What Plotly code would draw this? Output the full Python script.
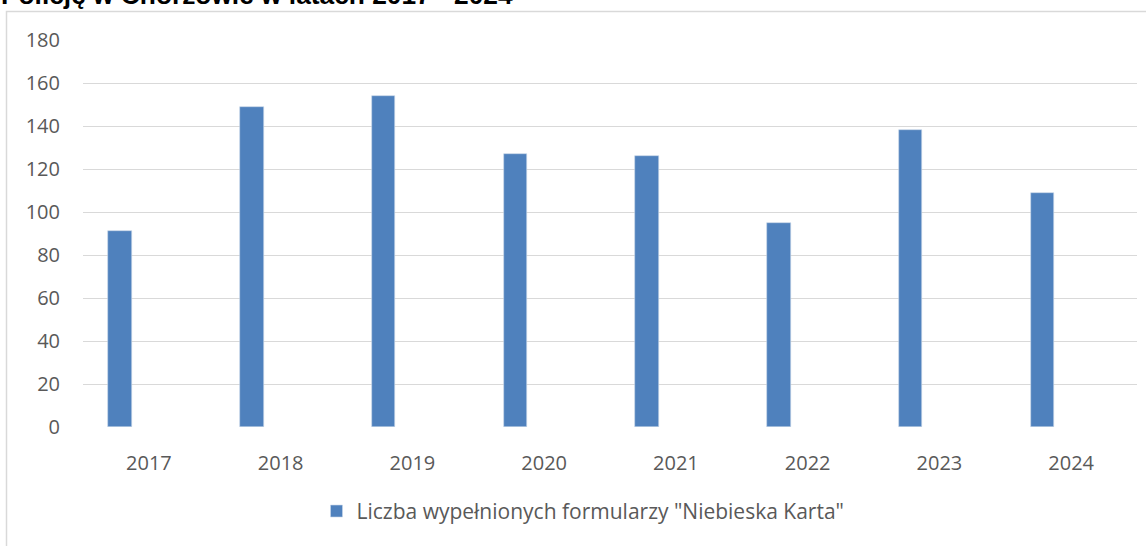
import plotly.graph_objects as go

years = ["2017", "2018", "2019", "2020", "2021", "2022", "2023", "2024"]
counts = [91, 149, 154, 127, 126, 95, 138, 109]
series_name = 'Liczba wypełnionych formularzy "Niebieska Karta"'
title_text = "Policję w Chorzowie w latach 2017 - 2024"
y_ticks = [0, 20, 40, 60, 80, 100, 120, 140, 160, 180]

W, H = 1146, 546
L, R, T, B = 83, 9, 40, 118.5
pw, ph = W - L - R, H - T - B

def px_x(p):
    return (p - L) / pw

def px_y(p):
    return (H - B - p) / ph

TXT = "#595959"
FONT = "'Open Sans', Lato, sans-serif"

fig = go.Figure()
fig.add_trace(go.Bar(
    x=years, y=counts, name=series_name,
    marker=dict(color="#4F81BD", line=dict(color="#c9d6ea", width=0.6)),
    width=0.178, offset=-0.307,
))

fig.update_layout(
    width=W, height=H,
    margin=dict(l=L, r=R, t=T, b=B),
    paper_bgcolor="white", plot_bgcolor="white",
    font=dict(family=FONT, color=TXT, size=20),
    showlegend=True,
    legend=dict(orientation="h", x=px_x(583), xanchor="center", y=px_y(512), yanchor="middle",
                font=dict(family=FONT, size=21, color=TXT), itemwidth=30),
    xaxis=dict(type="category", showgrid=False, showline=False, zeroline=False,
               ticks="outside", ticklen=18, tickcolor="rgba(0,0,0,0)",
               tickfont=dict(family=FONT, size=20, color=TXT)),
    yaxis=dict(range=[0, 180], tickvals=y_ticks, showgrid=True, gridcolor="#d9d9d9",
               gridwidth=1, zeroline=False, showline=False,
               ticks="outside", ticklen=18, tickcolor="rgba(0,0,0,0)",
               tickfont=dict(family=FONT, size=20, color=TXT)),
    bargap=0,
)

# chart-area border (partially visible in the crop)
fig.add_shape(type="rect", xref="paper", yref="paper",
              x0=px_x(6.5), x1=px_x(1160), y0=px_y(560), y1=px_y(11.5),
              line=dict(color="#d9d9d9", width=1.5), fillcolor="rgba(0,0,0,0)", layer="below")

# clipped title at top (cut off in the reference as well)
fig.add_annotation(text="<b>" + title_text + "</b>", xref="paper", yref="paper",
                   x=px_x(-1), y=px_y(-5), xanchor="left", yanchor="middle",
                   showarrow=False,
                   font=dict(family="Liberation Sans, Arial, sans-serif", size=26.3, color="#000000"))

fig.write_html("out.html", config={"displayModeBar": False},
               post_script="document.body.style.margin='0';")
